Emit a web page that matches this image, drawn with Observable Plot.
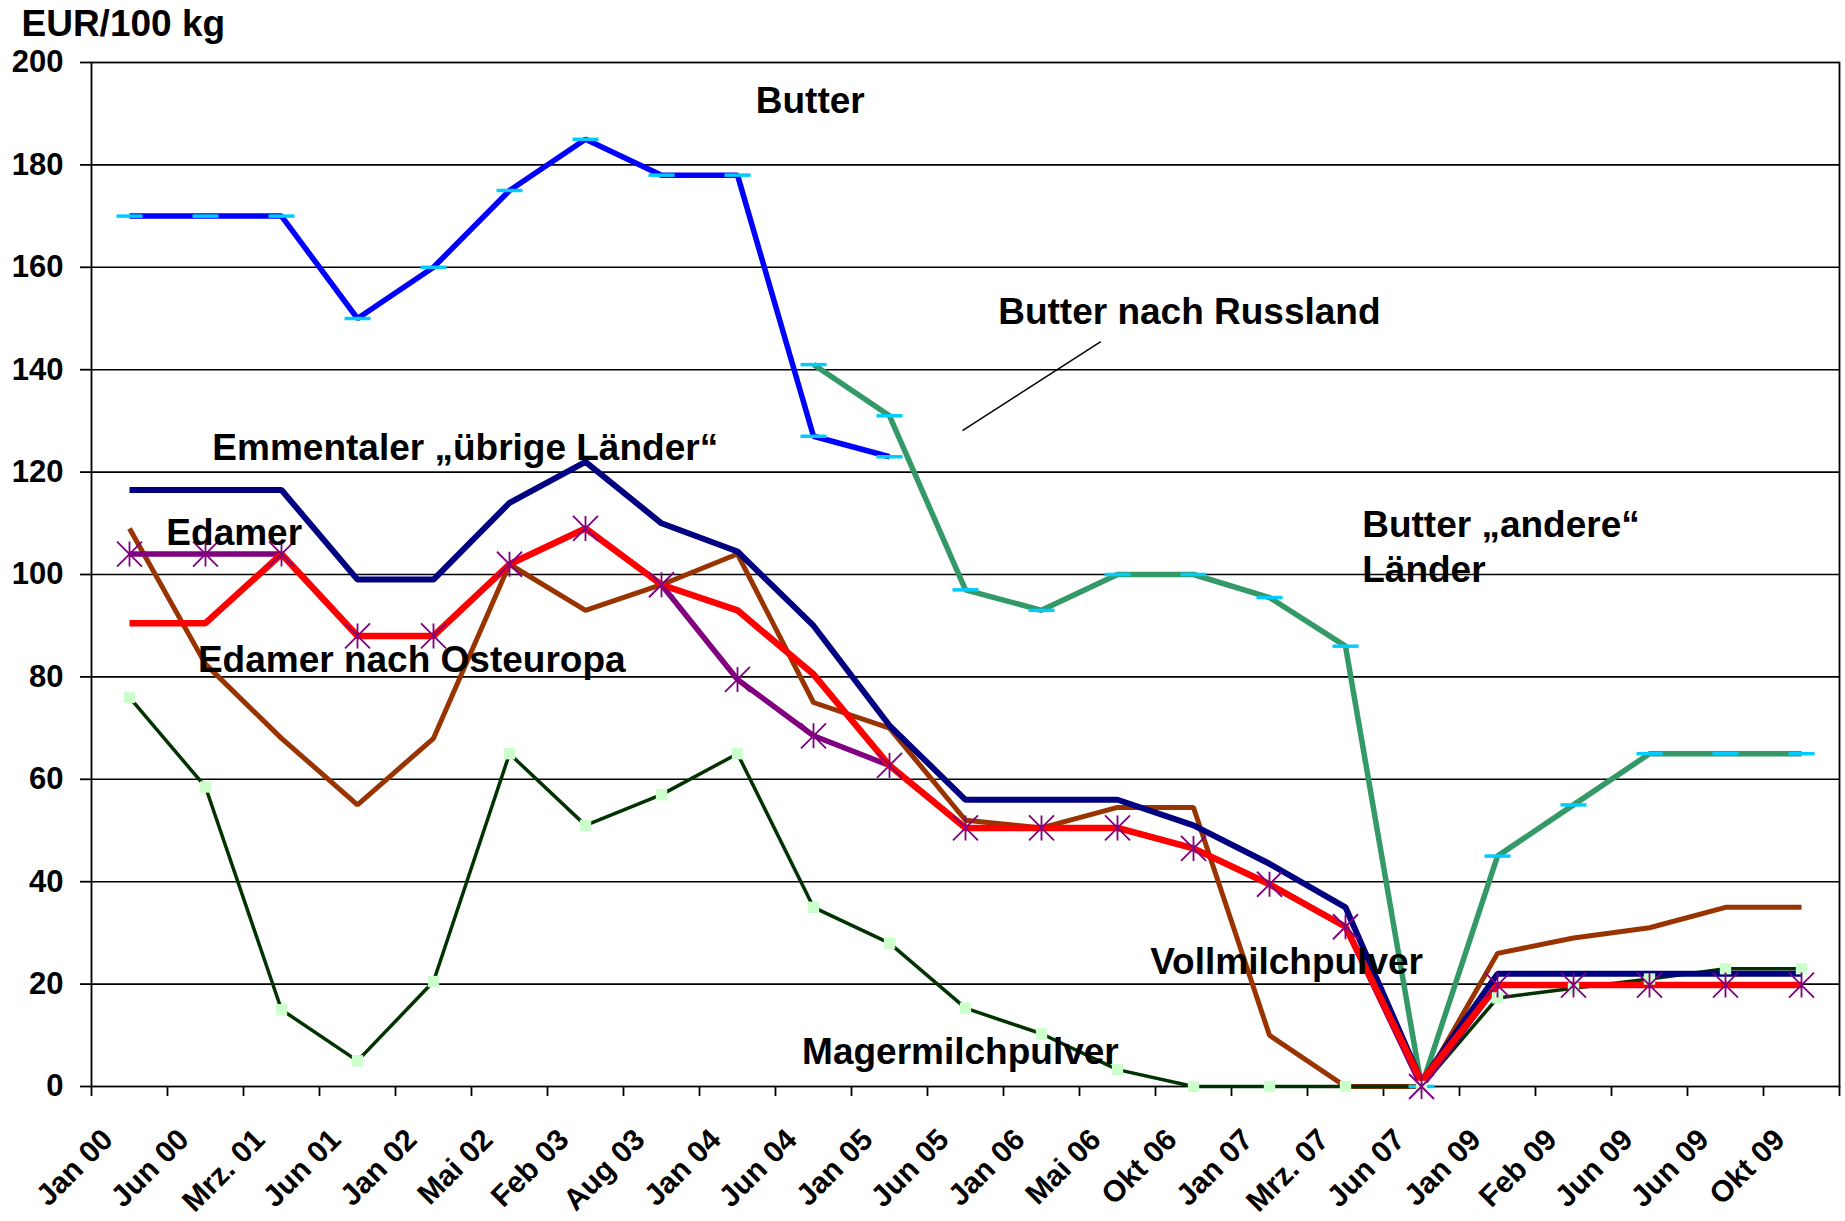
<!DOCTYPE html>
<html>
<head>
<meta charset="utf-8">
<script src="https://cdn.jsdelivr.net/npm/d3@7"></script>
<script src="https://cdn.jsdelivr.net/npm/@observablehq/plot@0.6"></script>
<style>
  html, body { margin: 0; padding: 0; background: #fff; }
  svg { display: block; }
</style>
</head>
<body>
<div id="chart"></div>
<script>
// ---------- data ----------
const categories = ["Jan 00","Jun 00","Mrz. 01","Jun 01","Jan 02","Mai 02","Feb 03","Aug 03","Jan 04","Jun 04","Jan 05","Jun 05","Jan 06","Mai 06","Okt 06","Jan 07","Mrz. 07","Jun 07","Jan 09","Feb 09","Jun 09","Jun 09","Okt 09"];

const butter       = [170,170,170,150,160,175,185,178,178,127,123,null,null,null,null,null,null,null,null,null,null,null,null];
const butterAndere = [null,null,null,null,null,null,null,null,null,141,131,97,93,100,100,95.5,86,0,45,55,65,65,65];
const emmentaler   = [116.5,116.5,116.5,99,99,114,122,110,104.5,90,70.5,56,56,56,51,43.5,35,1,22,22,22,22,22];
const edamer       = [90.5,90.5,104,88,88,102,109,98,93,80.5,62.7,50.5,50.5,50.5,46.5,39.5,31.2,1,19.8,19.8,19.8,19.8,19.8];
const edamerOst    = [104,104,104,88,88,102,109,98,79.5,68.5,62.7,50.5,50.5,50.5,46.5,39.5,31.2,0,19.8,19.8,19.8,19.8,19.8];
const vollmilch    = [109,82.5,68,55,68,102,93,98,104,75,70,52,50.5,54.5,54.5,10,0,0,26,29,31,35,35];
const magermilch   = [76,58.5,15,5,20.5,65,51,57,65,35,28,15.3,10.3,3.3,0,0,0,0,17.3,19.2,21,23,23];

const yTicks = [0,20,40,60,80,100,120,140,160,180,200];
const gridValues = [20,40,60,80,100,120,140,160,180];

// annotation labels (x in category units, y in EUR/100 kg)
const labelTexts = ["Butter","Butter nach Russland","Emmentaler \u201Eübrige Länder\u201C","Edamer","Edamer nach Osteuropa","Butter \u201Eandere\u201C","Länder","Vollmilchpulver","Magermilchpulver"];
const labelX = [8.74, 11.93, 1.59, 0.985, 1.40, 16.72, 16.72, 13.93, 9.35];
const labelY = [192.4, 151.2, 124.6, 108.0, 83.2, 109.6, 100.9, 24.2, 6.7];
const leader = [{x1: 13.28, y1: 145.5, x2: 11.46, y2: 128.1}];
const unitTitle = "EUR/100 kg";

// ---------- helpers ----------
const rows = arr => arr.map((v, i) => ({i: i + 0.5, v})).filter(d => d.v != null);
const annotations = labelTexts.map((t, k) => ({t, x: labelX[k], y: labelY[k]}));

const dashSymbol = {
  draw(ctx, size) {
    const r = Math.sqrt(size / Math.PI);
    ctx.moveTo(-r, 0); ctx.lineTo(r, 0);
  }
};
const starSymbol = {
  draw(ctx, size) {
    const r = Math.sqrt(size / Math.PI);
    ctx.moveTo(0, -r); ctx.lineTo(0, r);
    ctx.moveTo(-r, -r); ctx.lineTo(r, r);
    ctx.moveTo(-r, r); ctx.lineTo(r, -r);
  }
};

const lineOpts = (stroke, w) => ({x: "i", y: "v", stroke, strokeWidth: w, strokeLinejoin: "miter", strokeLinecap: "butt"});

const chart = Plot.plot({
  width: 1845,
  height: 1221,
  marginLeft: 91,
  marginRight: 6,
  marginTop: 62,
  marginBottom: 135,
  style: {
    fontFamily: "'Liberation Sans', Arial, sans-serif",
    fontWeight: "bold",
    fontSize: "31px",
    color: "black",
    background: "white",
    overflow: "visible"
  },
  x: {type: "linear", domain: [0, categories.length], axis: null},
  y: {domain: [0, 200], axis: null},
  marks: [
    Plot.ruleY(gridValues, {stroke: "black", strokeWidth: 1.6}),
    Plot.frame({stroke: "black", strokeWidth: 1.8}),
    Plot.axisY({ticks: yTicks, tickSize: 11, tickPadding: 17, label: null, strokeWidth: 1.8, fontSize: 31, fontWeight: "bold"}),
    Plot.axisX({ticks: d3.range(0, categories.length + 1), tickSize: 10, tickFormat: () => "", label: null, strokeWidth: 1.8}),

    Plot.line(rows(butterAndere), lineOpts("#339966", 5.5)),
    Plot.line(rows(butter), lineOpts("#0000FF", 5.5)),
    Plot.line(rows(vollmilch), lineOpts("#993300", 5)),
    Plot.line(rows(magermilch), lineOpts("#003300", 3.5)),
    Plot.line(rows(emmentaler), lineOpts("#000080", 6)),
    Plot.line(rows(edamerOst), lineOpts("#800080", 5.5)),
    Plot.line(rows(edamer), lineOpts("#FF0000", 6.5)),

    Plot.dot(rows(butter), {x: "i", y: "v", symbol: dashSymbol, r: 13, stroke: "#00CCFF", strokeWidth: 3.5, fill: "none"}),
    Plot.dot(rows(butterAndere), {x: "i", y: "v", symbol: dashSymbol, r: 13, stroke: "#00CCFF", strokeWidth: 3.5, fill: "none"}),
    Plot.dot(rows(magermilch), {x: "i", y: "v", symbol: "square", r: 6.4, fill: "#CCFFCC", stroke: "none"}),
    Plot.dot(rows(edamerOst), {x: "i", y: "v", symbol: starSymbol, r: 12.5, stroke: "#800080", strokeWidth: 1.8, fill: "none"}),

    Plot.link(leader, {x1: "x1", y1: "y1", x2: "x2", y2: "y2", stroke: "black", strokeWidth: 1.5}),
    Plot.text(annotations, {x: "x", y: "y", text: "t", textAnchor: "start", lineAnchor: "middle", fontSize: 37, fontWeight: "bold", fill: "black"}),

    Plot.text(categories, {x: (d, i) => i + 0.5, y: () => 0, text: d => d, rotate: -45, textAnchor: "end", lineAnchor: "bottom", dx: -15, dy: 55, fontSize: 30, fontWeight: "bold", fill: "black"}),
    Plot.text([unitTitle], {frameAnchor: "top-left", text: d => d, textAnchor: "start", lineAnchor: "bottom", dx: -70, dy: -27, fontSize: 37, fontWeight: "bold", fill: "black"})
  ]
});
document.getElementById("chart").appendChild(chart);
</script>
</body>
</html>
